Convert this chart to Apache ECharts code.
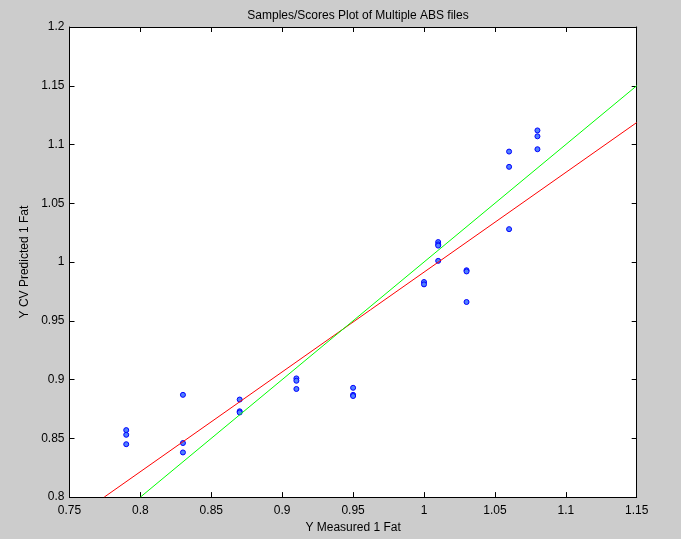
<!DOCTYPE html>
<html>
<head>
<meta charset="UTF-8" />
<title>Samples/Scores Plot</title>
<style>
  html, body { margin: 0; padding: 0; background: #cccccc }
  #chart { width: 681px; height: 539px }
</style>
<script src="https://cdn.jsdelivr.net/npm/echarts@6/dist/echarts.min.js"></script>
</head>
<body>
<div id="chart"></div>
<script>
  // measured vs CV predicted values
  const measured = [
    0.79, 0.79, 0.79,
    0.83, 0.83, 0.83,
    0.87, 0.87, 0.87,
    0.91, 0.91, 0.91,
    0.95, 0.95, 0.95,
    1.00, 1.00,
    1.01, 1.01, 1.01, 1.01,
    1.03, 1.03, 1.03,
    1.06, 1.06, 1.06,
    1.08, 1.08, 1.08
  ];
  const predicted = [
    0.857, 0.853, 0.845,
    0.887, 0.846, 0.838,
    0.883, 0.873, 0.872,
    0.901, 0.899, 0.892,
    0.893, 0.887, 0.886,
    0.983, 0.981,
    1.017, 1.015, 1.014, 1.001,
    0.993, 0.992, 0.966,
    1.094, 1.081, 1.028,
    1.112, 1.107, 1.096
  ];
  // fitted regression line (red) and 1:1 target line (green)
  const fitLine = [[0.7745, 0.8], [1.15, 1.1187]];
  const targetLine = [[0.8, 0.8], [1.15, 1.15]];

  const xTicks = { min: 0.75, max: 1.15, step: 0.05 };
  const yTicks = { min: 0.8, max: 1.2, step: 0.05 };

  const chart = echarts.init(document.getElementById('chart'));
  const font = 'Arial, "Liberation Sans", sans-serif';
  const fmt = v => String(parseFloat(v.toFixed(2)));

  const baseAxis = {
    type: 'value',
    axisLine: { show: true, onZero: false, lineStyle: { color: '#000', width: 1 } },
    axisTick: { show: true, inside: true, length: 5, lineStyle: { color: '#000' } },
    splitLine: { show: false }
  };

  chart.setOption({
    backgroundColor: '#cccccc',
    animation: false,
    title: {
      text: 'Samples/Scores Plot of Multiple ABS files',
      left: 353, top: 5, textAlign: 'center',
      textStyle: { fontFamily: font, fontSize: 12, fontWeight: 'normal', color: '#000' }
    },
    grid: { left: 69.5, right: 44.3, top: 27, bottom: 41, show: true, backgroundColor: '#fff', borderWidth: 0 },
    xAxis: [
      Object.assign({}, baseAxis, {
        min: xTicks.min, max: xTicks.max, interval: xTicks.step, position: 'bottom',
        name: 'Y Measured 1 Fat', nameLocation: 'middle', nameGap: 23,
        nameTextStyle: { fontFamily: font, fontSize: 12, color: '#000' },
        axisLabel: { formatter: fmt, margin: 8, fontFamily: font, fontSize: 12, color: '#000' }
      }),
      Object.assign({}, baseAxis, {
        min: xTicks.min, max: xTicks.max, interval: xTicks.step, position: 'top',
        axisLabel: { show: false }
      })
    ],
    yAxis: [
      Object.assign({}, baseAxis, {
        min: yTicks.min, max: yTicks.max, interval: yTicks.step, position: 'left',
        name: 'Y CV Predicted 1 Fat', nameLocation: 'middle', nameGap: 39,
        nameTextStyle: { fontFamily: font, fontSize: 12, color: '#000' },
        axisLabel: { formatter: fmt, margin: 5, fontFamily: font, fontSize: 12, color: '#000' }
      }),
      Object.assign({}, baseAxis, {
        min: yTicks.min, max: yTicks.max, interval: yTicks.step, position: 'right',
        axisLabel: { show: false }
      })
    ],
    series: [
      {
        type: 'scatter',
        data: measured.map((m, i) => [m, predicted[i]]),
        symbol: 'circle',
        symbolSize: 5,
        itemStyle: { color: '#5080ff', borderColor: '#0000ff', borderWidth: 1, opacity: 1 }
      },
      {
        type: 'line',
        data: fitLine,
        symbol: 'none',
        lineStyle: { color: '#ff0000', width: 1 }
      },
      {
        type: 'line',
        data: targetLine,
        symbol: 'none',
        lineStyle: { color: '#00ff00', width: 1 }
      }
    ]
  });
</script>
</body>
</html>
